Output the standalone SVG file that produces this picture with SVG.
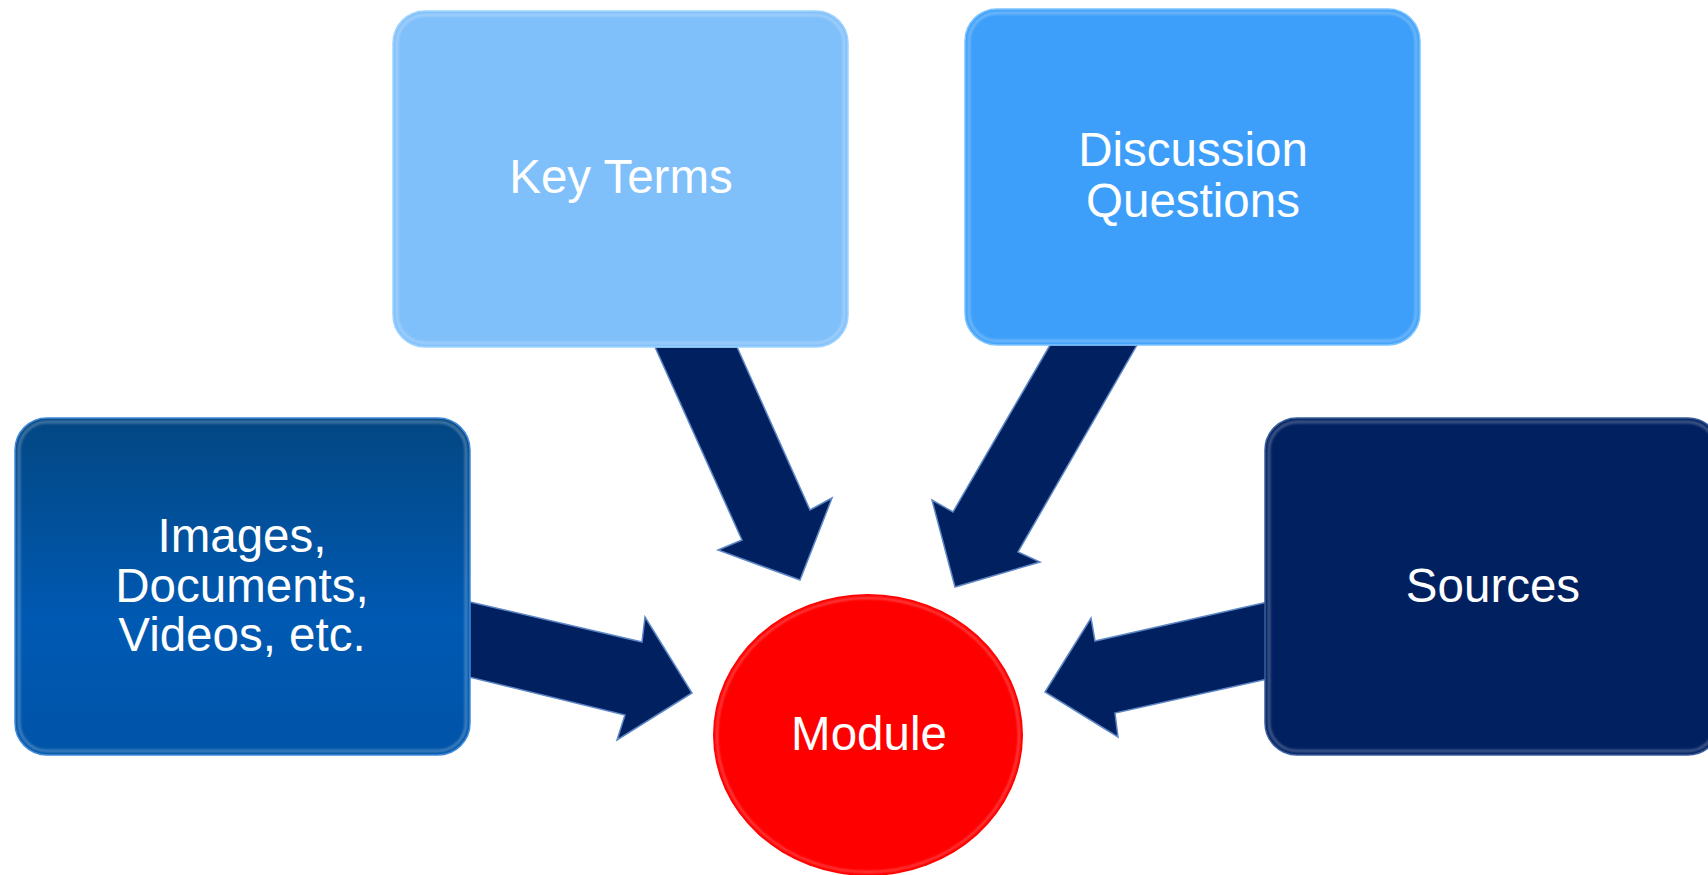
<svg xmlns="http://www.w3.org/2000/svg" width="1708" height="875" viewBox="0 0 1708 875">
<defs>
<style>
.lbl{font-family:"Liberation Sans",Arial,sans-serif;font-size:47.5px;fill:#ffffff;text-anchor:middle}
.arrow{fill:#002060;stroke:#5d86c4;stroke-width:1.5;stroke-linejoin:miter}
.bevel{fill:none;stroke:#ffffff;stroke-width:3;opacity:0.25;filter:url(#blur)}
</style>
<filter id="blur" x="-5%" y="-5%" width="110%" height="110%"><feGaussianBlur stdDeviation="1.2"/></filter>
<linearGradient id="gLeft" x1="0" y1="0" x2="0" y2="1">
<stop offset="0" stop-color="#034783"/>
<stop offset="0.6" stop-color="#0059b2"/>
<stop offset="1" stop-color="#0054a8"/>
</linearGradient>
</defs>
<rect width="1708" height="875" fill="#ffffff"/>
<g id="connectors">
<polygon class="arrow" points="655,347 737,347 810,510 832,498 800,580 718,550 742,540"/>
<polygon class="arrow" points="1050,345 1137,345 1018,552 1040,562 955,587 932,500 953,512"/>
<polygon class="arrow" points="440,595 642,642 645,617 692,693 617,740 625,715 440,670"/>
<polygon class="arrow" points="1290,597 1095,641 1091,618 1045,692 1118,737 1115,713 1290,674"/>
</g>
<g id="node-keyterms">
<rect x="393" y="11" width="455" height="336" rx="32" fill="#7fbffa" stroke="#9fd4ff" stroke-width="1.5"/>
<rect x="397" y="15" width="447" height="328" rx="28" class="bevel"/>
<text class="lbl" x="621" y="193">Key Terms</text>
</g>
<g id="node-discussion">
<rect x="965" y="9" width="455" height="336" rx="32" fill="#3d9ff9" stroke="#7cc4ff" stroke-width="1.5"/>
<rect x="969" y="13" width="447" height="328" rx="28" class="bevel"/>
<text class="lbl" x="1193" y="166">Discussion</text>
<text class="lbl" x="1193" y="217">Questions</text>
</g>
<g id="node-images">
<rect x="15" y="418" width="455" height="337" rx="32" fill="url(#gLeft)" stroke="#3f8ad8" stroke-width="1.5"/>
<rect x="19" y="422" width="447" height="329" rx="28" class="bevel"/>
<text class="lbl" x="242" y="552">Images,</text>
<text class="lbl" x="242" y="602">Documents,</text>
<text class="lbl" x="242" y="651">Videos, etc.</text>
</g>
<g id="node-sources">
<rect x="1265" y="418" width="455" height="337" rx="32" fill="#002060" stroke="#3a5f9c" stroke-width="1.5"/>
<rect x="1269" y="422" width="447" height="329" rx="28" class="bevel"/>
<text class="lbl" x="1493" y="602">Sources</text>
</g>
<g id="node-module">
<ellipse cx="868" cy="735" rx="155" ry="141" fill="#ff0000"/>
<ellipse cx="868" cy="735" rx="151" ry="137" fill="none" stroke="#ffffff" stroke-width="2" opacity="0.3" filter="url(#blur)"/>
<text class="lbl" x="869" y="750">Module</text>
</g>
</svg>
